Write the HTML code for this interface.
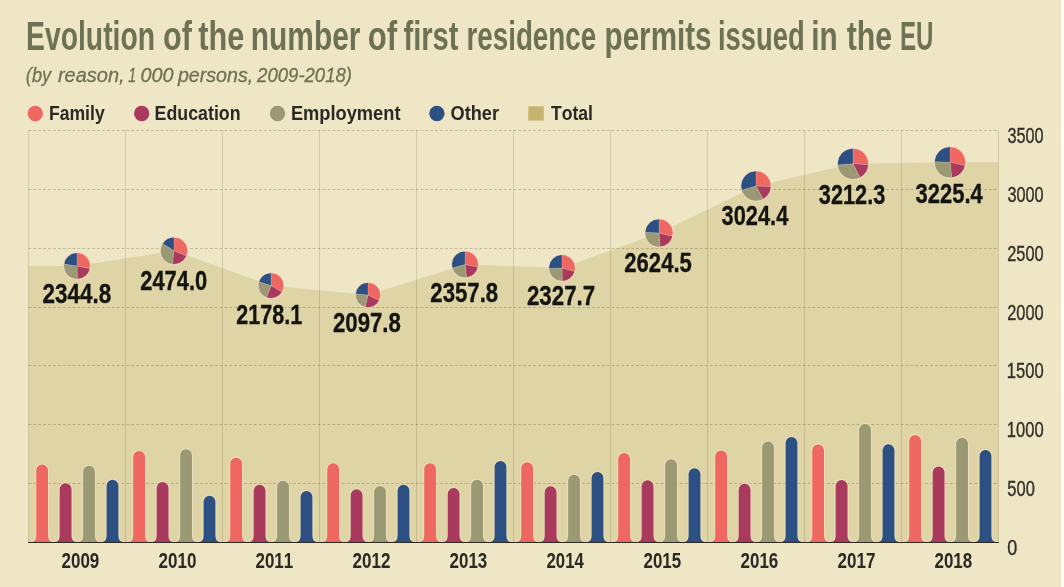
<!DOCTYPE html>
<html><head><meta charset="utf-8"><title>Evolution of first residence permits</title><style>html,body{margin:0;padding:0;background:#efe6c6;}
svg{display:block;will-change:transform}
text{font-family:"Liberation Sans",sans-serif;font-kerning:none;}
.title{font-weight:bold;font-size:40px;fill:#6d7254;}
.sub{font-style:italic;font-size:20.5px;fill:#6d7254;stroke:#6d7254;stroke-width:0.3px;}
.leg{font-weight:bold;font-size:20.3px;fill:#2a2a24;}
.val{font-weight:bold;font-size:28.3px;fill:#141412;stroke:#141412;stroke-width:0.35px;}
.yr{font-weight:bold;font-size:22.3px;fill:#2a2a24;}
.ax{font-size:22px;fill:#2f2f28;stroke:#2f2f28;stroke-width:0.35px;}
</style></head>
<body><svg width="1064" height="587" viewBox="0 0 1064 587">
<rect width="1064" height="587" fill="#efe6c6"/>
<rect x="1061" y="0" width="3" height="587" fill="#ffffff"/>
<path d="M28.5,542.0 L28.5,265.98 L77.00,265.98 L174.00,250.77 L271.00,285.61 L368.00,295.06 L465.00,264.45 L562.00,268.00 L659.00,233.06 L756.00,185.98 L853.00,163.87 L950.00,162.32 L998.5,162.32 L998.5,542.0 Z" fill="#dfd4a5"/>
<line x1="28.5" y1="483.50" x2="998.5" y2="483.50" stroke="#3a3010" stroke-opacity="0.24" stroke-width="1" stroke-dasharray="2.8 2.1"/>
<line x1="28.5" y1="424.50" x2="998.5" y2="424.50" stroke="#3a3010" stroke-opacity="0.24" stroke-width="1" stroke-dasharray="2.8 2.1"/>
<line x1="28.5" y1="365.50" x2="998.5" y2="365.50" stroke="#3a3010" stroke-opacity="0.24" stroke-width="1" stroke-dasharray="2.8 2.1"/>
<line x1="28.5" y1="307.50" x2="998.5" y2="307.50" stroke="#3a3010" stroke-opacity="0.24" stroke-width="1" stroke-dasharray="2.8 2.1"/>
<line x1="28.5" y1="248.50" x2="998.5" y2="248.50" stroke="#3a3010" stroke-opacity="0.24" stroke-width="1" stroke-dasharray="2.8 2.1"/>
<line x1="28.5" y1="189.50" x2="998.5" y2="189.50" stroke="#3a3010" stroke-opacity="0.24" stroke-width="1" stroke-dasharray="2.8 2.1"/>
<line x1="28.5" y1="130.50" x2="998.5" y2="130.50" stroke="#3a3010" stroke-opacity="0.24" stroke-width="1" stroke-dasharray="2.8 2.1"/>
<line x1="28.5" y1="130.00" x2="28.5" y2="542.0" stroke="#3a3010" stroke-opacity="0.15" stroke-width="1"/>
<line x1="125.5" y1="130.00" x2="125.5" y2="542.0" stroke="#3a3010" stroke-opacity="0.15" stroke-width="1"/>
<line x1="222.5" y1="130.00" x2="222.5" y2="542.0" stroke="#3a3010" stroke-opacity="0.15" stroke-width="1"/>
<line x1="319.5" y1="130.00" x2="319.5" y2="542.0" stroke="#3a3010" stroke-opacity="0.15" stroke-width="1"/>
<line x1="416.5" y1="130.00" x2="416.5" y2="542.0" stroke="#3a3010" stroke-opacity="0.15" stroke-width="1"/>
<line x1="513.5" y1="130.00" x2="513.5" y2="542.0" stroke="#3a3010" stroke-opacity="0.15" stroke-width="1"/>
<line x1="610.5" y1="130.00" x2="610.5" y2="542.0" stroke="#3a3010" stroke-opacity="0.15" stroke-width="1"/>
<line x1="707.5" y1="130.00" x2="707.5" y2="542.0" stroke="#3a3010" stroke-opacity="0.15" stroke-width="1"/>
<line x1="804.5" y1="130.00" x2="804.5" y2="542.0" stroke="#3a3010" stroke-opacity="0.15" stroke-width="1"/>
<line x1="901.5" y1="130.00" x2="901.5" y2="542.0" stroke="#3a3010" stroke-opacity="0.15" stroke-width="1"/>
<line x1="998.5" y1="130.00" x2="998.5" y2="542.0" stroke="#3a3010" stroke-opacity="0.15" stroke-width="1"/>
<path d="M31.65,542.0 Q36.25,542.0 36.25,535.50 L36.25,470.40 A5.9,5.9 0 0 1 48.05,470.40 L48.05,535.50 Q48.05,542.0 52.65,542.0 Z" fill="#ef6761" stroke="#f6e6d0" stroke-width="2.2" stroke-opacity="0.5" paint-order="stroke"/>
<path d="M55.10,542.0 Q59.70,542.0 59.70,535.50 L59.70,489.10 A5.9,5.9 0 0 1 71.50,489.10 L71.50,535.50 Q71.50,542.0 76.10,542.0 Z" fill="#a9395d" stroke="#f6e6d0" stroke-width="2.2" stroke-opacity="0.5" paint-order="stroke"/>
<path d="M78.55,542.0 Q83.15,542.0 83.15,535.50 L83.15,471.70 A5.9,5.9 0 0 1 94.95,471.70 L94.95,535.50 Q94.95,542.0 99.55,542.0 Z" fill="#9a9974" stroke="#f6e6d0" stroke-width="2.2" stroke-opacity="0.5" paint-order="stroke"/>
<path d="M102.00,542.0 Q106.60,542.0 106.60,535.50 L106.60,485.70 A5.9,5.9 0 0 1 118.40,485.70 L118.40,535.50 Q118.40,542.0 123.00,542.0 Z" fill="#2d5082" stroke="#f6e6d0" stroke-width="2.2" stroke-opacity="0.5" paint-order="stroke"/>
<path d="M128.65,542.0 Q133.25,542.0 133.25,535.50 L133.25,457.00 A5.9,5.9 0 0 1 145.05,457.00 L145.05,535.50 Q145.05,542.0 149.65,542.0 Z" fill="#ef6761" stroke="#f6e6d0" stroke-width="2.2" stroke-opacity="0.5" paint-order="stroke"/>
<path d="M152.10,542.0 Q156.70,542.0 156.70,535.50 L156.70,488.00 A5.9,5.9 0 0 1 168.50,488.00 L168.50,535.50 Q168.50,542.0 173.10,542.0 Z" fill="#a9395d" stroke="#f6e6d0" stroke-width="2.2" stroke-opacity="0.5" paint-order="stroke"/>
<path d="M175.55,542.0 Q180.15,542.0 180.15,535.50 L180.15,455.20 A5.9,5.9 0 0 1 191.95,455.20 L191.95,535.50 Q191.95,542.0 196.55,542.0 Z" fill="#9a9974" stroke="#f6e6d0" stroke-width="2.2" stroke-opacity="0.5" paint-order="stroke"/>
<path d="M199.00,542.0 Q203.60,542.0 203.60,535.50 L203.60,501.70 A5.9,5.9 0 0 1 215.40,501.70 L215.40,535.50 Q215.40,542.0 220.00,542.0 Z" fill="#2d5082" stroke="#f6e6d0" stroke-width="2.2" stroke-opacity="0.5" paint-order="stroke"/>
<path d="M225.65,542.0 Q230.25,542.0 230.25,535.50 L230.25,463.60 A5.9,5.9 0 0 1 242.05,463.60 L242.05,535.50 Q242.05,542.0 246.65,542.0 Z" fill="#ef6761" stroke="#f6e6d0" stroke-width="2.2" stroke-opacity="0.5" paint-order="stroke"/>
<path d="M249.10,542.0 Q253.70,542.0 253.70,535.50 L253.70,490.70 A5.9,5.9 0 0 1 265.50,490.70 L265.50,535.50 Q265.50,542.0 270.10,542.0 Z" fill="#a9395d" stroke="#f6e6d0" stroke-width="2.2" stroke-opacity="0.5" paint-order="stroke"/>
<path d="M272.55,542.0 Q277.15,542.0 277.15,535.50 L277.15,486.70 A5.9,5.9 0 0 1 288.95,486.70 L288.95,535.50 Q288.95,542.0 293.55,542.0 Z" fill="#9a9974" stroke="#f6e6d0" stroke-width="2.2" stroke-opacity="0.5" paint-order="stroke"/>
<path d="M296.00,542.0 Q300.60,542.0 300.60,535.50 L300.60,496.90 A5.9,5.9 0 0 1 312.40,496.90 L312.40,535.50 Q312.40,542.0 317.00,542.0 Z" fill="#2d5082" stroke="#f6e6d0" stroke-width="2.2" stroke-opacity="0.5" paint-order="stroke"/>
<path d="M322.65,542.0 Q327.25,542.0 327.25,535.50 L327.25,469.20 A5.9,5.9 0 0 1 339.05,469.20 L339.05,535.50 Q339.05,542.0 343.65,542.0 Z" fill="#ef6761" stroke="#f6e6d0" stroke-width="2.2" stroke-opacity="0.5" paint-order="stroke"/>
<path d="M346.10,542.0 Q350.70,542.0 350.70,535.50 L350.70,495.10 A5.9,5.9 0 0 1 362.50,495.10 L362.50,535.50 Q362.50,542.0 367.10,542.0 Z" fill="#a9395d" stroke="#f6e6d0" stroke-width="2.2" stroke-opacity="0.5" paint-order="stroke"/>
<path d="M369.55,542.0 Q374.15,542.0 374.15,535.50 L374.15,491.80 A5.9,5.9 0 0 1 385.95,491.80 L385.95,535.50 Q385.95,542.0 390.55,542.0 Z" fill="#9a9974" stroke="#f6e6d0" stroke-width="2.2" stroke-opacity="0.5" paint-order="stroke"/>
<path d="M393.00,542.0 Q397.60,542.0 397.60,535.50 L397.60,490.70 A5.9,5.9 0 0 1 409.40,490.70 L409.40,535.50 Q409.40,542.0 414.00,542.0 Z" fill="#2d5082" stroke="#f6e6d0" stroke-width="2.2" stroke-opacity="0.5" paint-order="stroke"/>
<path d="M419.65,542.0 Q424.25,542.0 424.25,535.50 L424.25,469.20 A5.9,5.9 0 0 1 436.05,469.20 L436.05,535.50 Q436.05,542.0 440.65,542.0 Z" fill="#ef6761" stroke="#f6e6d0" stroke-width="2.2" stroke-opacity="0.5" paint-order="stroke"/>
<path d="M443.10,542.0 Q447.70,542.0 447.70,535.50 L447.70,494.00 A5.9,5.9 0 0 1 459.50,494.00 L459.50,535.50 Q459.50,542.0 464.10,542.0 Z" fill="#a9395d" stroke="#f6e6d0" stroke-width="2.2" stroke-opacity="0.5" paint-order="stroke"/>
<path d="M466.55,542.0 Q471.15,542.0 471.15,535.50 L471.15,485.60 A5.9,5.9 0 0 1 482.95,485.60 L482.95,535.50 Q482.95,542.0 487.55,542.0 Z" fill="#9a9974" stroke="#f6e6d0" stroke-width="2.2" stroke-opacity="0.5" paint-order="stroke"/>
<path d="M490.00,542.0 Q494.60,542.0 494.60,535.50 L494.60,467.00 A5.9,5.9 0 0 1 506.40,467.00 L506.40,535.50 Q506.40,542.0 511.00,542.0 Z" fill="#2d5082" stroke="#f6e6d0" stroke-width="2.2" stroke-opacity="0.5" paint-order="stroke"/>
<path d="M516.65,542.0 Q521.25,542.0 521.25,535.50 L521.25,468.10 A5.9,5.9 0 0 1 533.05,468.10 L533.05,535.50 Q533.05,542.0 537.65,542.0 Z" fill="#ef6761" stroke="#f6e6d0" stroke-width="2.2" stroke-opacity="0.5" paint-order="stroke"/>
<path d="M540.10,542.0 Q544.70,542.0 544.70,535.50 L544.70,492.20 A5.9,5.9 0 0 1 556.50,492.20 L556.50,535.50 Q556.50,542.0 561.10,542.0 Z" fill="#a9395d" stroke="#f6e6d0" stroke-width="2.2" stroke-opacity="0.5" paint-order="stroke"/>
<path d="M563.55,542.0 Q568.15,542.0 568.15,535.50 L568.15,480.70 A5.9,5.9 0 0 1 579.95,480.70 L579.95,535.50 Q579.95,542.0 584.55,542.0 Z" fill="#9a9974" stroke="#f6e6d0" stroke-width="2.2" stroke-opacity="0.5" paint-order="stroke"/>
<path d="M587.00,542.0 Q591.60,542.0 591.60,535.50 L591.60,478.00 A5.9,5.9 0 0 1 603.40,478.00 L603.40,535.50 Q603.40,542.0 608.00,542.0 Z" fill="#2d5082" stroke="#f6e6d0" stroke-width="2.2" stroke-opacity="0.5" paint-order="stroke"/>
<path d="M613.65,542.0 Q618.25,542.0 618.25,535.50 L618.25,459.00 A5.9,5.9 0 0 1 630.05,459.00 L630.05,535.50 Q630.05,542.0 634.65,542.0 Z" fill="#ef6761" stroke="#f6e6d0" stroke-width="2.2" stroke-opacity="0.5" paint-order="stroke"/>
<path d="M637.10,542.0 Q641.70,542.0 641.70,535.50 L641.70,486.20 A5.9,5.9 0 0 1 653.50,486.20 L653.50,535.50 Q653.50,542.0 658.10,542.0 Z" fill="#a9395d" stroke="#f6e6d0" stroke-width="2.2" stroke-opacity="0.5" paint-order="stroke"/>
<path d="M660.55,542.0 Q665.15,542.0 665.15,535.50 L665.15,465.20 A5.9,5.9 0 0 1 676.95,465.20 L676.95,535.50 Q676.95,542.0 681.55,542.0 Z" fill="#9a9974" stroke="#f6e6d0" stroke-width="2.2" stroke-opacity="0.5" paint-order="stroke"/>
<path d="M684.00,542.0 Q688.60,542.0 688.60,535.50 L688.60,474.10 A5.9,5.9 0 0 1 700.40,474.10 L700.40,535.50 Q700.40,542.0 705.00,542.0 Z" fill="#2d5082" stroke="#f6e6d0" stroke-width="2.2" stroke-opacity="0.5" paint-order="stroke"/>
<path d="M710.65,542.0 Q715.25,542.0 715.25,535.50 L715.25,456.30 A5.9,5.9 0 0 1 727.05,456.30 L727.05,535.50 Q727.05,542.0 731.65,542.0 Z" fill="#ef6761" stroke="#f6e6d0" stroke-width="2.2" stroke-opacity="0.5" paint-order="stroke"/>
<path d="M734.10,542.0 Q738.70,542.0 738.70,535.50 L738.70,489.60 A5.9,5.9 0 0 1 750.50,489.60 L750.50,535.50 Q750.50,542.0 755.10,542.0 Z" fill="#a9395d" stroke="#f6e6d0" stroke-width="2.2" stroke-opacity="0.5" paint-order="stroke"/>
<path d="M757.55,542.0 Q762.15,542.0 762.15,535.50 L762.15,447.50 A5.9,5.9 0 0 1 773.95,447.50 L773.95,535.50 Q773.95,542.0 778.55,542.0 Z" fill="#9a9974" stroke="#f6e6d0" stroke-width="2.2" stroke-opacity="0.5" paint-order="stroke"/>
<path d="M781.00,542.0 Q785.60,542.0 785.60,535.50 L785.60,443.00 A5.9,5.9 0 0 1 797.40,443.00 L797.40,535.50 Q797.40,542.0 802.00,542.0 Z" fill="#2d5082" stroke="#f6e6d0" stroke-width="2.2" stroke-opacity="0.5" paint-order="stroke"/>
<path d="M807.65,542.0 Q812.25,542.0 812.25,535.50 L812.25,450.40 A5.9,5.9 0 0 1 824.05,450.40 L824.05,535.50 Q824.05,542.0 828.65,542.0 Z" fill="#ef6761" stroke="#f6e6d0" stroke-width="2.2" stroke-opacity="0.5" paint-order="stroke"/>
<path d="M831.10,542.0 Q835.70,542.0 835.70,535.50 L835.70,485.80 A5.9,5.9 0 0 1 847.50,485.80 L847.50,535.50 Q847.50,542.0 852.10,542.0 Z" fill="#a9395d" stroke="#f6e6d0" stroke-width="2.2" stroke-opacity="0.5" paint-order="stroke"/>
<path d="M854.55,542.0 Q859.15,542.0 859.15,535.50 L859.15,429.80 A5.9,5.9 0 0 1 870.95,429.80 L870.95,535.50 Q870.95,542.0 875.55,542.0 Z" fill="#9a9974" stroke="#f6e6d0" stroke-width="2.2" stroke-opacity="0.5" paint-order="stroke"/>
<path d="M878.00,542.0 Q882.60,542.0 882.60,535.50 L882.60,450.10 A5.9,5.9 0 0 1 894.40,450.10 L894.40,535.50 Q894.40,542.0 899.00,542.0 Z" fill="#2d5082" stroke="#f6e6d0" stroke-width="2.2" stroke-opacity="0.5" paint-order="stroke"/>
<path d="M904.65,542.0 Q909.25,542.0 909.25,535.50 L909.25,440.80 A5.9,5.9 0 0 1 921.05,440.80 L921.05,535.50 Q921.05,542.0 925.65,542.0 Z" fill="#ef6761" stroke="#f6e6d0" stroke-width="2.2" stroke-opacity="0.5" paint-order="stroke"/>
<path d="M928.10,542.0 Q932.70,542.0 932.70,535.50 L932.70,472.50 A5.9,5.9 0 0 1 944.50,472.50 L944.50,535.50 Q944.50,542.0 949.10,542.0 Z" fill="#a9395d" stroke="#f6e6d0" stroke-width="2.2" stroke-opacity="0.5" paint-order="stroke"/>
<path d="M951.55,542.0 Q956.15,542.0 956.15,535.50 L956.15,443.70 A5.9,5.9 0 0 1 967.95,443.70 L967.95,535.50 Q967.95,542.0 972.55,542.0 Z" fill="#9a9974" stroke="#f6e6d0" stroke-width="2.2" stroke-opacity="0.5" paint-order="stroke"/>
<path d="M975.00,542.0 Q979.60,542.0 979.60,535.50 L979.60,455.90 A5.9,5.9 0 0 1 991.40,455.90 L991.40,535.50 Q991.40,542.0 996.00,542.0 Z" fill="#2d5082" stroke="#f6e6d0" stroke-width="2.2" stroke-opacity="0.5" paint-order="stroke"/>
<rect x="28.0" y="542.0" width="971.0" height="1" fill="#2e2a20"/>
<path d="M77.00,265.98 L77.00,252.79 A13.20,13.20 0 0 1 89.93,268.63 Z" fill="#ef6761" stroke="#f4ece0" stroke-width="0.5" stroke-opacity="0.35"/>
<path d="M77.00,265.98 L89.93,268.63 A13.20,13.20 0 0 1 77.32,279.18 Z" fill="#a9395d" stroke="#f4ece0" stroke-width="0.5" stroke-opacity="0.35"/>
<path d="M77.00,265.98 L77.32,279.18 A13.20,13.20 0 0 1 63.95,264.04 Z" fill="#9a9974" stroke="#f4ece0" stroke-width="0.5" stroke-opacity="0.35"/>
<path d="M77.00,265.98 L63.95,264.04 A13.20,13.20 0 0 1 77.00,252.79 Z" fill="#2d5082" stroke="#f4ece0" stroke-width="0.5" stroke-opacity="0.35"/>
<circle cx="77.00" cy="265.98" r="13.60" fill="none" stroke="#f8d8c8" stroke-width="0.9" stroke-opacity="0.7"/>
<text x="42.52" y="303.40" class="val" textLength="68.67" lengthAdjust="spacingAndGlyphs">2344.8</text>
<path d="M174.00,250.77 L174.00,237.22 A13.55,13.55 0 0 1 186.48,256.06 Z" fill="#ef6761" stroke="#f4ece0" stroke-width="0.5" stroke-opacity="0.35"/>
<path d="M174.00,250.77 L186.48,256.06 A13.55,13.55 0 0 1 172.26,264.22 Z" fill="#a9395d" stroke="#f4ece0" stroke-width="0.5" stroke-opacity="0.35"/>
<path d="M174.00,250.77 L172.26,264.22 A13.55,13.55 0 0 1 162.58,243.47 Z" fill="#9a9974" stroke="#f4ece0" stroke-width="0.5" stroke-opacity="0.35"/>
<path d="M174.00,250.77 L162.58,243.47 A13.55,13.55 0 0 1 174.00,237.22 Z" fill="#2d5082" stroke="#f4ece0" stroke-width="0.5" stroke-opacity="0.35"/>
<circle cx="174.00" cy="250.77" r="13.95" fill="none" stroke="#f8d8c8" stroke-width="0.9" stroke-opacity="0.7"/>
<text x="140.24" y="289.60" class="val" textLength="66.96" lengthAdjust="spacingAndGlyphs">2474.0</text>
<path d="M271.00,285.61 L271.00,272.89 A12.72,12.72 0 0 1 282.06,291.89 Z" fill="#ef6761" stroke="#f4ece0" stroke-width="0.5" stroke-opacity="0.35"/>
<path d="M271.00,285.61 L282.06,291.89 A12.72,12.72 0 0 1 266.49,297.50 Z" fill="#a9395d" stroke="#f4ece0" stroke-width="0.5" stroke-opacity="0.35"/>
<path d="M271.00,285.61 L266.49,297.50 A12.72,12.72 0 0 1 258.88,281.75 Z" fill="#9a9974" stroke="#f4ece0" stroke-width="0.5" stroke-opacity="0.35"/>
<path d="M271.00,285.61 L258.88,281.75 A12.72,12.72 0 0 1 271.00,272.89 Z" fill="#2d5082" stroke="#f4ece0" stroke-width="0.5" stroke-opacity="0.35"/>
<circle cx="271.00" cy="285.61" r="13.12" fill="none" stroke="#f8d8c8" stroke-width="0.9" stroke-opacity="0.7"/>
<text x="236.35" y="323.50" class="val" textLength="65.85" lengthAdjust="spacingAndGlyphs">2178.1</text>
<path d="M368.00,295.06 L368.00,282.58 A12.48,12.48 0 0 1 379.24,300.48 Z" fill="#ef6761" stroke="#f4ece0" stroke-width="0.5" stroke-opacity="0.35"/>
<path d="M368.00,295.06 L379.24,300.48 A12.48,12.48 0 0 1 365.11,307.20 Z" fill="#a9395d" stroke="#f4ece0" stroke-width="0.5" stroke-opacity="0.35"/>
<path d="M368.00,295.06 L365.11,307.20 A12.48,12.48 0 0 1 355.58,293.78 Z" fill="#9a9974" stroke="#f4ece0" stroke-width="0.5" stroke-opacity="0.35"/>
<path d="M368.00,295.06 L355.58,293.78 A12.48,12.48 0 0 1 368.00,282.58 Z" fill="#2d5082" stroke="#f4ece0" stroke-width="0.5" stroke-opacity="0.35"/>
<circle cx="368.00" cy="295.06" r="12.88" fill="none" stroke="#f8d8c8" stroke-width="0.9" stroke-opacity="0.7"/>
<text x="332.93" y="332.20" class="val" textLength="67.95" lengthAdjust="spacingAndGlyphs">2097.8</text>
<path d="M465.00,264.45 L465.00,251.22 A13.23,13.23 0 0 1 477.91,267.37 Z" fill="#ef6761" stroke="#f4ece0" stroke-width="0.5" stroke-opacity="0.35"/>
<path d="M465.00,264.45 L477.91,267.37 A13.23,13.23 0 0 1 466.59,277.59 Z" fill="#a9395d" stroke="#f4ece0" stroke-width="0.5" stroke-opacity="0.35"/>
<path d="M465.00,264.45 L466.59,277.59 A13.23,13.23 0 0 1 452.26,268.01 Z" fill="#9a9974" stroke="#f4ece0" stroke-width="0.5" stroke-opacity="0.35"/>
<path d="M465.00,264.45 L452.26,268.01 A13.23,13.23 0 0 1 465.00,251.22 Z" fill="#2d5082" stroke="#f4ece0" stroke-width="0.5" stroke-opacity="0.35"/>
<circle cx="465.00" cy="264.45" r="13.63" fill="none" stroke="#f8d8c8" stroke-width="0.9" stroke-opacity="0.7"/>
<text x="430.33" y="302.30" class="val" textLength="67.85" lengthAdjust="spacingAndGlyphs">2357.8</text>
<path d="M562.00,268.00 L562.00,254.85 A13.15,13.15 0 0 1 574.68,271.48 Z" fill="#ef6761" stroke="#f4ece0" stroke-width="0.5" stroke-opacity="0.35"/>
<path d="M562.00,268.00 L574.68,271.48 A13.15,13.15 0 0 1 562.24,281.14 Z" fill="#a9395d" stroke="#f4ece0" stroke-width="0.5" stroke-opacity="0.35"/>
<path d="M562.00,268.00 L562.24,281.14 A13.15,13.15 0 0 1 548.86,268.53 Z" fill="#9a9974" stroke="#f4ece0" stroke-width="0.5" stroke-opacity="0.35"/>
<path d="M562.00,268.00 L548.86,268.53 A13.15,13.15 0 0 1 562.00,254.85 Z" fill="#2d5082" stroke="#f4ece0" stroke-width="0.5" stroke-opacity="0.35"/>
<circle cx="562.00" cy="268.00" r="13.55" fill="none" stroke="#f8d8c8" stroke-width="0.9" stroke-opacity="0.7"/>
<text x="526.93" y="305.00" class="val" textLength="68.25" lengthAdjust="spacingAndGlyphs">2327.7</text>
<path d="M659.00,233.06 L659.00,219.10 A13.96,13.96 0 0 1 672.53,236.49 Z" fill="#ef6761" stroke="#f4ece0" stroke-width="0.5" stroke-opacity="0.35"/>
<path d="M659.00,233.06 L672.53,236.49 A13.96,13.96 0 0 1 659.84,246.99 Z" fill="#a9395d" stroke="#f4ece0" stroke-width="0.5" stroke-opacity="0.35"/>
<path d="M659.00,233.06 L659.84,246.99 A13.96,13.96 0 0 1 645.07,232.21 Z" fill="#9a9974" stroke="#f4ece0" stroke-width="0.5" stroke-opacity="0.35"/>
<path d="M659.00,233.06 L645.07,232.21 A13.96,13.96 0 0 1 659.00,219.10 Z" fill="#2d5082" stroke="#f4ece0" stroke-width="0.5" stroke-opacity="0.35"/>
<circle cx="659.00" cy="233.06" r="14.36" fill="none" stroke="#f8d8c8" stroke-width="0.9" stroke-opacity="0.7"/>
<text x="624.34" y="272.30" class="val" textLength="67.48" lengthAdjust="spacingAndGlyphs">2624.5</text>
<path d="M756.00,185.98 L756.00,171.00 A14.99,14.99 0 0 1 770.97,186.73 Z" fill="#ef6761" stroke="#f4ece0" stroke-width="0.5" stroke-opacity="0.35"/>
<path d="M756.00,185.98 L770.97,186.73 A14.99,14.99 0 0 1 763.05,199.21 Z" fill="#a9395d" stroke="#f4ece0" stroke-width="0.5" stroke-opacity="0.35"/>
<path d="M756.00,185.98 L763.05,199.21 A14.99,14.99 0 0 1 741.62,190.20 Z" fill="#9a9974" stroke="#f4ece0" stroke-width="0.5" stroke-opacity="0.35"/>
<path d="M756.00,185.98 L741.62,190.20 A14.99,14.99 0 0 1 756.00,171.00 Z" fill="#2d5082" stroke="#f4ece0" stroke-width="0.5" stroke-opacity="0.35"/>
<circle cx="756.00" cy="185.98" r="15.39" fill="none" stroke="#f8d8c8" stroke-width="0.9" stroke-opacity="0.7"/>
<text x="721.60" y="224.80" class="val" textLength="66.72" lengthAdjust="spacingAndGlyphs">3024.4</text>
<path d="M853.00,163.87 L853.00,148.42 A15.44,15.44 0 0 1 868.42,164.80 Z" fill="#ef6761" stroke="#f4ece0" stroke-width="0.5" stroke-opacity="0.35"/>
<path d="M853.00,163.87 L868.42,164.80 A15.44,15.44 0 0 1 860.01,177.63 Z" fill="#a9395d" stroke="#f4ece0" stroke-width="0.5" stroke-opacity="0.35"/>
<path d="M853.00,163.87 L860.01,177.63 A15.44,15.44 0 0 1 837.59,164.88 Z" fill="#9a9974" stroke="#f4ece0" stroke-width="0.5" stroke-opacity="0.35"/>
<path d="M853.00,163.87 L837.59,164.88 A15.44,15.44 0 0 1 853.00,148.42 Z" fill="#2d5082" stroke="#f4ece0" stroke-width="0.5" stroke-opacity="0.35"/>
<circle cx="853.00" cy="163.87" r="15.84" fill="none" stroke="#f8d8c8" stroke-width="0.9" stroke-opacity="0.7"/>
<text x="818.80" y="203.90" class="val" textLength="66.48" lengthAdjust="spacingAndGlyphs">3212.3</text>
<path d="M950.00,162.32 L950.00,146.85 A15.48,15.48 0 0 1 965.15,165.49 Z" fill="#ef6761" stroke="#f4ece0" stroke-width="0.5" stroke-opacity="0.35"/>
<path d="M950.00,162.32 L965.15,165.49 A15.48,15.48 0 0 1 951.76,177.70 Z" fill="#a9395d" stroke="#f4ece0" stroke-width="0.5" stroke-opacity="0.35"/>
<path d="M950.00,162.32 L951.76,177.70 A15.48,15.48 0 0 1 934.54,161.64 Z" fill="#9a9974" stroke="#f4ece0" stroke-width="0.5" stroke-opacity="0.35"/>
<path d="M950.00,162.32 L934.54,161.64 A15.48,15.48 0 0 1 950.00,146.85 Z" fill="#2d5082" stroke="#f4ece0" stroke-width="0.5" stroke-opacity="0.35"/>
<circle cx="950.00" cy="162.32" r="15.88" fill="none" stroke="#f8d8c8" stroke-width="0.9" stroke-opacity="0.7"/>
<text x="915.60" y="202.80" class="val" textLength="67.22" lengthAdjust="spacingAndGlyphs">3225.4</text>
<text x="61.51" y="567.80" class="yr" textLength="37.82" lengthAdjust="spacingAndGlyphs">2009</text>
<text x="158.51" y="567.80" class="yr" textLength="37.89" lengthAdjust="spacingAndGlyphs">2010</text>
<text x="255.51" y="567.80" class="yr" textLength="37.66" lengthAdjust="spacingAndGlyphs">2011</text>
<text x="352.51" y="567.80" class="yr" textLength="37.87" lengthAdjust="spacingAndGlyphs">2012</text>
<text x="449.51" y="567.80" class="yr" textLength="37.80" lengthAdjust="spacingAndGlyphs">2013</text>
<text x="546.52" y="567.80" class="yr" textLength="37.27" lengthAdjust="spacingAndGlyphs">2014</text>
<text x="643.51" y="567.80" class="yr" textLength="37.66" lengthAdjust="spacingAndGlyphs">2015</text>
<text x="740.51" y="567.80" class="yr" textLength="37.80" lengthAdjust="spacingAndGlyphs">2016</text>
<text x="837.51" y="567.80" class="yr" textLength="37.94" lengthAdjust="spacingAndGlyphs">2017</text>
<text x="934.51" y="567.80" class="yr" textLength="37.71" lengthAdjust="spacingAndGlyphs">2018</text>
<text x="1007.30" y="555.00" class="ax" textLength="10.01" lengthAdjust="spacingAndGlyphs">0</text>
<text x="1007.34" y="496.14" class="ax" textLength="27.50" lengthAdjust="spacingAndGlyphs">500</text>
<text x="1006.74" y="437.29" class="ax" textLength="36.91" lengthAdjust="spacingAndGlyphs">1000</text>
<text x="1006.74" y="378.43" class="ax" textLength="36.91" lengthAdjust="spacingAndGlyphs">1500</text>
<text x="1007.18" y="319.57" class="ax" textLength="36.46" lengthAdjust="spacingAndGlyphs">2000</text>
<text x="1007.18" y="260.71" class="ax" textLength="36.46" lengthAdjust="spacingAndGlyphs">2500</text>
<text x="1007.38" y="201.86" class="ax" textLength="36.26" lengthAdjust="spacingAndGlyphs">3000</text>
<text x="1007.38" y="143.00" class="ax" textLength="36.26" lengthAdjust="spacingAndGlyphs">3500</text>
<text x="26.00" y="49.50" class="title" textLength="129.05" lengthAdjust="spacingAndGlyphs">Evolution</text>
<text x="163.01" y="49.50" class="title" textLength="28.83" lengthAdjust="spacingAndGlyphs">of</text>
<text x="198.23" y="49.50" class="title" textLength="46.02" lengthAdjust="spacingAndGlyphs">the</text>
<text x="250.83" y="49.50" class="title" textLength="109.62" lengthAdjust="spacingAndGlyphs">number</text>
<text x="367.79" y="49.50" class="title" textLength="29.35" lengthAdjust="spacingAndGlyphs">of</text>
<text x="403.50" y="49.50" class="title" textLength="54.95" lengthAdjust="spacingAndGlyphs">first</text>
<text x="466.47" y="49.50" class="title" textLength="129.68" lengthAdjust="spacingAndGlyphs">residence</text>
<text x="604.55" y="49.50" class="title" textLength="106.97" lengthAdjust="spacingAndGlyphs">permits</text>
<text x="717.99" y="49.50" class="title" textLength="86.61" lengthAdjust="spacingAndGlyphs">issued</text>
<text x="811.22" y="49.50" class="title" textLength="26.42" lengthAdjust="spacingAndGlyphs">in</text>
<text x="846.73" y="49.50" class="title" textLength="45.40" lengthAdjust="spacingAndGlyphs">the</text>
<text x="899.89" y="49.50" class="title" textLength="33.48" lengthAdjust="spacingAndGlyphs">EU</text>
<text x="25.85" y="81.60" class="sub" textLength="25.24" lengthAdjust="spacingAndGlyphs">(by</text>
<text x="57.97" y="81.60" class="sub" textLength="66.65" lengthAdjust="spacingAndGlyphs">reason,</text>
<text x="128.23" y="81.60" class="sub" textLength="7.98" lengthAdjust="spacingAndGlyphs">1</text>
<text x="140.54" y="81.60" class="sub" textLength="33.02" lengthAdjust="spacingAndGlyphs">000</text>
<text x="177.89" y="81.60" class="sub" textLength="75.39" lengthAdjust="spacingAndGlyphs">persons,</text>
<text x="257.11" y="81.60" class="sub" textLength="94.90" lengthAdjust="spacingAndGlyphs">2009-2018)</text>
<circle cx="35.25" cy="113.5" r="7.7" fill="#ef6761"/>
<text x="48.92" y="119.60" class="leg" textLength="55.77" lengthAdjust="spacingAndGlyphs">Family</text>
<circle cx="141.7" cy="113.5" r="7.7" fill="#a9395d"/>
<text x="154.61" y="119.60" class="leg" textLength="85.99" lengthAdjust="spacingAndGlyphs">Education</text>
<circle cx="277.5" cy="113.5" r="7.7" fill="#9a9974"/>
<text x="290.88" y="119.60" class="leg" textLength="109.65" lengthAdjust="spacingAndGlyphs">Employment</text>
<circle cx="436.9" cy="113.5" r="7.7" fill="#2d5082"/>
<text x="450.56" y="119.60" class="leg" textLength="48.42" lengthAdjust="spacingAndGlyphs">Other</text>
<rect x="528.3" y="106.3" width="15.5" height="14.3" fill="#c6b370"/>
<text x="550.90" y="119.60" class="leg" textLength="42.04" lengthAdjust="spacingAndGlyphs">Total</text>
</svg></body></html>
